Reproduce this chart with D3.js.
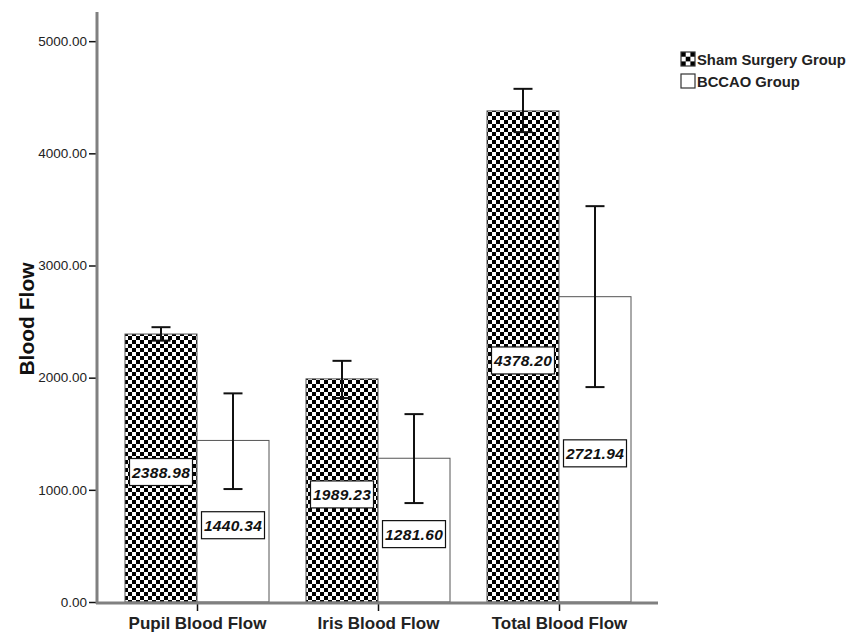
<!DOCTYPE html>
<html>
<head>
<meta charset="utf-8">
<script src="https://cdn.jsdelivr.net/npm/d3@7"></script>
<style>
  body { margin: 0; background: #fff; }
  text { font-family: "Liberation Sans", Arial, sans-serif; }
</style>
</head>
<body>
<div id="chart"></div>
<script>
// chart data
var categories = ["Pupil Blood Flow", "Iris Blood Flow", "Total Blood Flow"];
var groups = ["Sham Surgery Group", "BCCAO Group"];
var shamMeans = [2388.98, 1989.23, 4378.20];
var bccaoMeans = [1440.34, 1281.60, 2721.94];
var shamLow = [2330, 1818, 4189];
var shamHigh = [2450, 2150, 4575];
var bccaoLow = [1007, 882, 1916];
var bccaoHigh = [1860, 1675, 3529];
var yTicks = [0, 1000, 2000, 3000, 4000, 5000];

var w = 848;
var h = 632;

var svg = d3.select("#chart")
  .append("svg")
  .attr("width", w)
  .attr("height", h);

// checker pattern for sham bars
var defs = svg.append("defs");
var pat = defs.append("pattern")
  .attr("id", "checker")
  .attr("patternUnits", "userSpaceOnUse")
  .attr("width", 8)
  .attr("height", 8);
pat.append("rect").attr("width", 8).attr("height", 8).attr("fill", "#fff");
pat.append("rect").attr("x", 0).attr("y", 0).attr("width", 4).attr("height", 4).attr("fill", "#000");
pat.append("rect").attr("x", 4).attr("y", 4).attr("width", 4).attr("height", 4).attr("fill", "#000");

var legPat = defs.append("pattern")
  .attr("id", "checkerLegend")
  .attr("patternUnits", "userSpaceOnUse")
  .attr("x", 681)
  .attr("y", 52)
  .attr("width", 9.4)
  .attr("height", 9.4);
legPat.append("rect").attr("width", 9.4).attr("height", 9.4).attr("fill", "#fff");
legPat.append("rect").attr("width", 4.7).attr("height", 4.7).attr("fill", "#000");
legPat.append("rect").attr("x", 4.7).attr("y", 4.7).attr("width", 4.7).attr("height", 4.7).attr("fill", "#000");

// rows: one per category/group pair
var rows = [];
categories.forEach(function(c, i) {
  rows.push({ cat: c, group: groups[0], mean: shamMeans[i], lo: shamLow[i], hi: shamHigh[i] });
  rows.push({ cat: c, group: groups[1], mean: bccaoMeans[i], lo: bccaoLow[i], hi: bccaoHigh[i] });
});

var x0 = d3.scalePoint()
  .domain(categories)
  .range([197, 559]);

var x1 = d3.scaleBand()
  .domain(groups)
  .range([-72, 72])
  .padding(0);

var y = d3.scaleLinear()
  .domain([0, 5260])
  .range([602, 12]);

var bx = function(d) { return x0(d.cat) + x1(d.group); };
var cx = function(d) { return bx(d) + x1.bandwidth() / 2; };

// bars
svg.selectAll("rect.bar")
  .data(rows)
  .enter()
  .append("rect")
  .attr("class", "bar")
  .attr("x", bx)
  .attr("y", d => y(d.mean))
  .attr("width", x1.bandwidth())
  .attr("height", d => y(0) - y(d.mean))
  .attr("fill", d => d.group === groups[0] ? "url(#checker)" : "#fff")
  .attr("stroke", "#555")
  .attr("stroke-width", 1);

// error bars
var err = svg.selectAll(".err")
  .data(rows)
  .enter()
  .append("g")
  .attr("class", "err")
  .attr("stroke", "#111")
  .attr("stroke-width", 2);

err.append("line")
  .attr("x1", cx).attr("x2", cx)
  .attr("y1", d => y(d.lo)).attr("y2", d => y(d.hi));
err.append("line")
  .attr("x1", d => cx(d) - 9.5).attr("x2", d => cx(d) + 9.5)
  .attr("y1", d => y(d.hi)).attr("y2", d => y(d.hi));
err.append("line")
  .attr("x1", d => cx(d) - 9.5).attr("x2", d => cx(d) + 9.5)
  .attr("y1", d => y(d.lo)).attr("y2", d => y(d.lo));

// value labels in boxes
var lab = svg.selectAll(".val")
  .data(rows)
  .enter()
  .append("g")
  .attr("class", "val")
  .attr("transform", d => "translate(" + cx(d) + "," + (y(d.mean / 2) + 4) + ")");

lab.append("rect")
  .attr("x", -31.5)
  .attr("y", -13.5)
  .attr("width", 63)
  .attr("height", 27)
  .attr("fill", "#fff")
  .attr("stroke", "#111")
  .attr("stroke-width", 1.2);

lab.append("text")
  .attr("text-anchor", "middle")
  .attr("dy", "0.36em")
  .attr("font-size", "15.5px")
  .attr("font-weight", "bold")
  .attr("font-style", "italic")
  .attr("letter-spacing", "0.3px")
  .attr("fill", "#111")
  .text(d => d3.format(".2f")(d.mean));

// y axis
var yAxis = d3.axisLeft(y)
  .tickValues(yTicks)
  .tickSize(7)
  .tickPadding(2)
  .tickFormat(d3.format(".2f"));

var gy = svg.append("g")
  .attr("class", "y-axis")
  .attr("transform", "translate(96,0)")
  .call(yAxis);
gy.select(".domain").remove();
gy.selectAll(".tick line").attr("stroke", "#111").attr("stroke-width", 1.5);
gy.selectAll(".tick text")
  .attr("font-size", "13.5px")
  .attr("fill", "#222")
  .style("font-family", "'Liberation Sans', Arial, sans-serif");

// x axis
var xAxis = d3.axisBottom(x0)
  .tickSize(8)
  .tickPadding(0);

var gx = svg.append("g")
  .attr("class", "x-axis")
  .attr("transform", "translate(0,603)")
  .call(xAxis);
gx.select(".domain").remove();
gx.selectAll(".tick line").attr("stroke", "#111").attr("stroke-width", 1.5);
gx.selectAll(".tick text")
  .attr("y", 26)
  .attr("dy", 0)
  .attr("font-size", "17px")
  .attr("font-weight", "bold")
  .attr("fill", "#222")
  .style("font-family", "'Liberation Sans', Arial, sans-serif");

// axis lines (grey, drawn over the bars)
svg.append("line")
  .attr("x1", 97).attr("x2", 97)
  .attr("y1", 12).attr("y2", 604)
  .attr("stroke", "#808080")
  .attr("stroke-width", 3);
svg.append("line")
  .attr("x1", 96).attr("x2", 658)
  .attr("y1", 603).attr("y2", 603)
  .attr("stroke", "#808080")
  .attr("stroke-width", 3);

// y title
svg.append("text")
  .attr("transform", "translate(34,319) rotate(-90)")
  .attr("text-anchor", "middle")
  .attr("font-size", "21px")
  .attr("font-weight", "bold")
  .attr("fill", "#111")
  .text("Blood Flow");

// legend
var legend = svg.selectAll(".legend")
  .data(groups)
  .enter()
  .append("g")
  .attr("class", "legend")
  .attr("transform", function(d, i) { return "translate(0," + i * 22 + ")"; });

legend.append("rect")
  .attr("x", 681)
  .attr("y", 52)
  .attr("width", 14)
  .attr("height", 14)
  .attr("fill", (d, i) => i === 0 ? "url(#checkerLegend)" : "#fff")
  .attr("stroke", "#333")
  .attr("stroke-width", 1.2);

legend.append("text")
  .attr("x", 697)
  .attr("y", 65)
  .attr("font-size", "14.8px")
  .attr("font-weight", "bold")
  .attr("fill", "#222")
  .text(d => d);
</script>
</body>
</html>
